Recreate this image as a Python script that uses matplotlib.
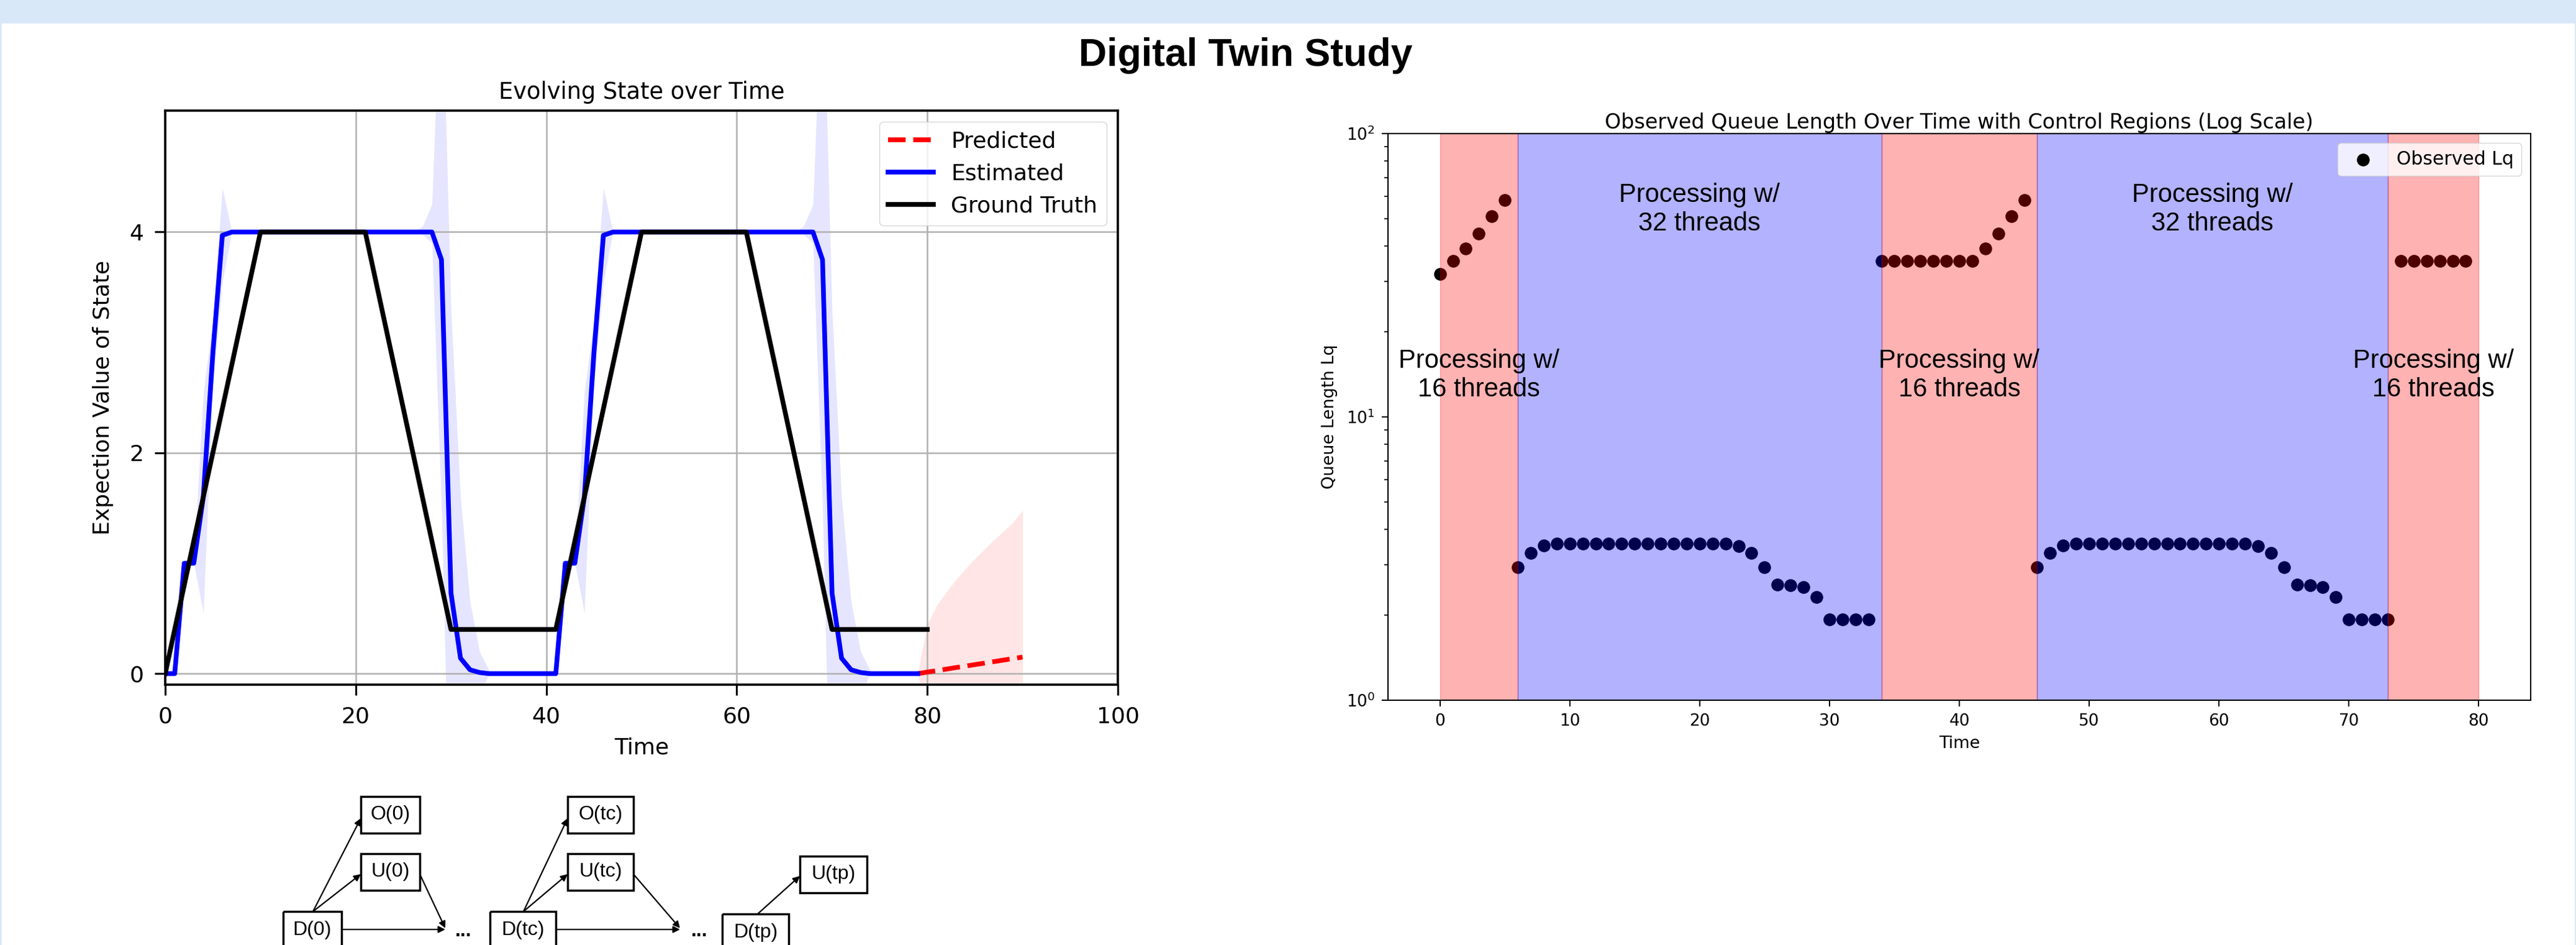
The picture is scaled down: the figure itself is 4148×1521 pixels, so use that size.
import matplotlib
matplotlib.use("Agg")
import matplotlib.pyplot as plt
from matplotlib.patches import Rectangle

# ---- data: left panel (state estimation) ----
t_est = list(range(0, 80))
estimated = [0.0, 0.0, 1.0, 1.0, 1.6, 2.9, 3.97] + [4.0] * 22 + \
            [3.75, 0.73, 0.14, 0.035, 0.01] + [0.0] * 8 + \
            [1.0, 1.0, 1.6, 2.9, 3.97] + [4.0] * 22 + \
            [3.75, 0.73, 0.14, 0.035, 0.01] + [0.0] * 6
est_lower = [0.0, 0.0, 1.0, 1.0, 0.55, 2.6, 3.55] + [4.0] * 20 + [3.98, 3.9] + \
            [1.5, -2.0, -0.6, -0.5, -0.2] + [0.0] * 8 + \
            [1.0, 1.0, 0.55, 2.6, 3.55] + [4.0] * 20 + [3.98, 3.9] + \
            [1.5, -2.0, -0.6, -0.5, -0.2] + [0.0] * 6
est_upper = [0.0, 0.0, 1.0, 1.0, 2.55, 3.2, 4.4] + [4.0] * 20 + [4.05, 4.25] + \
            [6.5, 3.3, 1.6, 0.65, 0.2] + [0.03] + [0.0] * 7 + \
            [1.0, 1.0, 2.55, 3.2, 4.4] + [4.0] * 20 + [4.05, 4.25] + \
            [6.5, 3.3, 1.6, 0.65, 0.2] + [0.03] + [0.0] * 5

t_truth = list(range(0, 81))
truth = [0.0, 0.4, 0.8, 1.2, 1.6, 2.0, 2.4, 2.8, 3.2, 3.6, 4.0] + [4.0] * 11 + \
        [3.6, 3.2, 2.8, 2.4, 2.0, 1.6, 1.2, 0.8, 0.4] + [0.4] * 11 + \
        [0.8, 1.2, 1.6, 2.0, 2.4, 2.8, 3.2, 3.6, 4.0] + [4.0] * 11 + \
        [3.6, 3.2, 2.8, 2.4, 2.0, 1.6, 1.2, 0.8, 0.4] + [0.4] * 10

t_pred = list(range(79, 91))
predicted = [0.0, 0.014, 0.027, 0.041, 0.055, 0.068, 0.082, 0.095, 0.109, 0.123, 0.136, 0.15]
pred_upper = [0.0, 0.45, 0.62, 0.74, 0.85, 0.95, 1.04, 1.13, 1.21, 1.29, 1.37, 1.48]
pred_lower = [0.0, -0.42, -0.57, -0.66, -0.74, -0.81, -0.88, -0.94, -0.99, -1.04, -1.10, -1.18]

# ---- data: right panel (queue length) ----
t_obs = list(range(0, 80))
lq_obs = [32.0, 35.5, 39.3, 44.4, 51.0, 58.2,
          2.94, 3.31, 3.52] + [3.57] * 14 + [3.5, 3.31, 2.94, 2.56, 2.54, 2.51, 2.31, 1.93, 1.93, 1.93, 1.93] + \
         [35.5] * 8 + [39.3, 44.4, 51.0, 58.2] + \
         [2.94, 3.31, 3.52] + [3.57] * 14 + [3.5, 3.31, 2.94, 2.56, 2.54, 2.51, 2.31, 1.93, 1.93, 1.93, 1.93] + \
         [35.5] * 6
region_start = [0, 6, 34, 46, 73]
region_end = [6, 34, 46, 73, 80]
region_color = ['red', 'blue', 'red', 'blue', 'red']
label_x = [3, 20, 40, 59.5, 76.5]
label_y = [14, 54, 14, 54, 14]
label_text = ['Processing w/\n16 threads', 'Processing w/\n32 threads', 'Processing w/\n16 threads',
              'Processing w/\n32 threads', 'Processing w/\n16 threads']

W, H = 4148, 1521
fig = plt.figure(figsize=(W / 100, H / 100), dpi=100)

# background + diagram layer in pixel coordinates
bg = fig.add_axes([0, 0, 1, 1], zorder=-10)
bg.set_xlim(0, W)
bg.set_ylim(H, 0)
bg.axis('off')
bg.add_patch(Rectangle((0, 0), W, H, color='#d8e8f8', zorder=0))
bg.add_patch(Rectangle((3, 38), W - 6, H - 38, color='white', zorder=1))

boxes = {'O(0)': (581, 1282, 95, 59), 'U(0)': (581, 1374, 95, 59), 'D(0)': (456, 1467, 94, 60),
         'D(tc)': (789, 1467, 106, 60), 'O(tc)': (914, 1282, 106, 59), 'U(tc)': (914, 1374, 106, 59),
         'D(tp)': (1163, 1471, 107, 60), 'U(tp)': (1288, 1378, 108, 59)}
for name, (x0, y0, w, h) in boxes.items():
    bg.add_patch(Rectangle((x0, y0), w, h, fill=False, lw=2.5, ec='black', zorder=2))
    bg.text(x0 + w / 2, y0 + h / 2, name, ha='center', va='center', fontsize=23,
            family='Liberation Sans', zorder=3)
arrows = [((504, 1467), (581, 1317)), ((504, 1467), (581, 1407)), ((676, 1407), (717, 1494)),
          ((550, 1496), (717, 1496)), ((843, 1467), (914, 1317)), ((843, 1467), (914, 1407)),
          ((1020, 1407), (1095, 1494)), ((895, 1496), (1095, 1496)), ((1220, 1471), (1288, 1410))]
for a, b in arrows:
    bg.annotate('', xy=b, xytext=a, zorder=3,
                arrowprops=dict(arrowstyle='-|>', lw=1.6, color='black', mutation_scale=16,
                                shrinkA=0, shrinkB=0))
for x in [746, 1126]:
    bg.text(x, 1507, '...', ha='center', va='baseline', fontsize=23, fontweight='bold',
            family='Liberation Sans', zorder=3)

fig.text(2006 / W, 1 - 106 / H, 'Digital Twin Study', ha='center', va='baseline',
         fontsize=45, fontweight='bold', family='Liberation Sans')

# ---- left panel ----
ax = fig.add_axes([266 / W, 1 - 1102 / H, 1534 / W, 924 / H])
ax.fill_between(t_pred, pred_lower, pred_upper, color='red', alpha=0.1, lw=0)
ax.fill_between(t_est, est_lower, est_upper, color='blue', alpha=0.1, lw=0)
ax.plot(t_pred, predicted, 'r--', lw=5.5, label='Predicted')
ax.plot(t_est, estimated, color='blue', lw=5.5, label='Estimated')
ax.plot(t_truth, truth, color='black', lw=5.5, label='Ground Truth')
ax.set_xlim(0, 100)
ax.set_ylim(-0.1, 5.1)
ax.set_xticks([0, 20, 40, 60, 80, 100])
ax.set_yticks([0, 2, 4])
ax.grid(True, color='#b0b0b0', lw=1.8)
ax.tick_params(labelsize=26, length=12, width=2.2, pad=13)
for s in ax.spines.values():
    s.set_linewidth(2.6)
ax.set_xlabel('Time', fontsize=26, labelpad=11)
ax.set_ylabel('Expection Value of State', fontsize=26, labelpad=18)
ax.set_title('Evolving State over Time', fontsize=26.5, pad=14)
ax.legend(loc='upper right', fontsize=26)

# ---- right panel ----
ax2 = fig.add_axes([2235 / W, 1 - 1127 / H, 1840 / W, 912 / H])
ax2.scatter(t_obs, lq_obs, color='black', s=190, label='Observed Lq')
for a, b, c in zip(region_start, region_end, region_color):
    ax2.axvspan(a, b, color=c, alpha=0.3)
for x, y, txt in zip(label_x, label_y, label_text):
    ax2.text(x, y, txt, ha='center', va='center', fontsize=30, family='Liberation Sans', zorder=5)
ax2.set_yscale('log')
ax2.set_ylim(1, 100)
ax2.set_xlim(-4, 84)
ax2.set_xticks(range(0, 81, 10))
ax2.tick_params(labelsize=19, length=7, width=1.5, pad=8)
ax2.tick_params(which='minor', length=4, width=1.2)
for s in ax2.spines.values():
    s.set_linewidth(1.5)
ax2.set_xlabel('Time', fontsize=19.5, labelpad=7)
ax2.set_ylabel('Queue Length Lq', fontsize=19.5, labelpad=10)
ax2.set_title('Observed Queue Length Over Time with Control Regions (Log Scale)', fontsize=24, pad=6)
ax2.legend(loc='upper right', fontsize=21.5, scatterpoints=1)

fig.savefig('out.png', dpi=100)
